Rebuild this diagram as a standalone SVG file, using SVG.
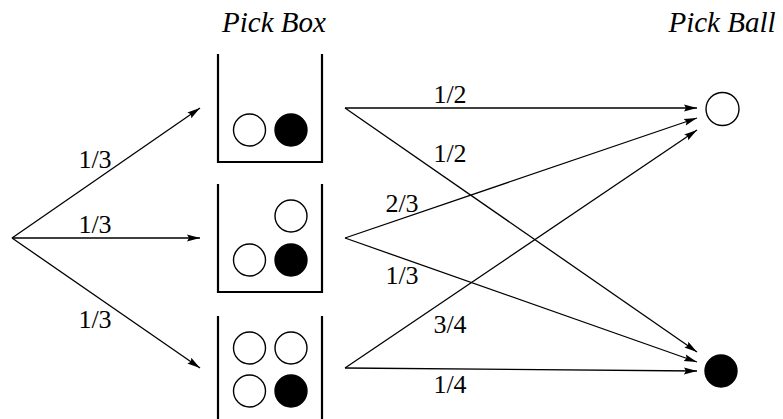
<svg xmlns="http://www.w3.org/2000/svg" width="783" height="419" viewBox="0 0 783 419">
<style>
.c{stroke:#000;stroke-width:1.3;fill:none}
.box{stroke:#000;stroke-width:2.2;fill:none}
.w{fill:#fff;stroke:#000;stroke-width:1.4}
.b{fill:#000;stroke:#000;stroke-width:1.4}
</style>
<defs>
<marker id="ah" markerUnits="userSpaceOnUse" markerWidth="14" markerHeight="10" viewBox="0 0 14 10" refX="13" refY="5" orient="auto">
<path d="M0,1.5 L13,5 L0,8.5 L2,5 Z" fill="#000"/>
</marker>
</defs>
<rect width="783" height="419" fill="#fff"/>
<g id="titles" font-family="'Times New Roman', Times, 'Liberation Serif', 'DejaVu Serif', serif" font-size="29" font-style="italic" text-anchor="middle" fill="#000">
<text x="274" y="32">Pick Box</text>
<text x="722" y="32">Pick Ball</text>
</g>
<g id="box1">
<path class="box" d="M218,54 V162 H322 V54"/>
<circle class="w" cx="249.5" cy="130" r="16"/>
<circle class="b" cx="291" cy="130" r="16"/>
</g>
<g id="box2">
<path class="box" d="M218,184 V292 H322 V184"/>
<circle class="w" cx="291" cy="216" r="16"/>
<circle class="w" cx="249.5" cy="260" r="16"/>
<circle class="b" cx="291" cy="260" r="16"/>
</g>
<g id="box3">
<path class="box" d="M218,316 V419 M322,316 V419"/>
<circle class="w" cx="249.5" cy="348" r="16"/>
<circle class="w" cx="291" cy="348" r="16"/>
<circle class="w" cx="249.5" cy="391" r="16"/>
<circle class="b" cx="291" cy="391" r="16"/>
</g>
<g id="white-ball">
<circle class="w" cx="722.5" cy="109" r="16.5"/>
</g>
<g id="black-ball">
<circle class="b" cx="721" cy="371" r="16"/>
</g>
<g id="connectors">
<line class="c" x1="12" y1="238" x2="200" y2="108" marker-end="url(#ah)"/>
<line class="c" x1="12" y1="238" x2="200" y2="238" marker-end="url(#ah)"/>
<line class="c" x1="12" y1="238" x2="200" y2="368" marker-end="url(#ah)"/>
<line class="c" x1="345" y1="108" x2="697" y2="108" marker-end="url(#ah)"/>
<line class="c" x1="345" y1="108" x2="697" y2="352" marker-end="url(#ah)"/>
<line class="c" x1="345" y1="238" x2="697" y2="118" marker-end="url(#ah)"/>
<line class="c" x1="345" y1="238" x2="697" y2="362" marker-end="url(#ah)"/>
<line class="c" x1="345" y1="368" x2="697" y2="130" marker-end="url(#ah)"/>
<line class="c" x1="345" y1="368" x2="697" y2="371" marker-end="url(#ah)"/>
</g>
<g id="labels" font-family="'Times New Roman', Times, 'Liberation Serif', 'DejaVu Serif', serif" font-size="26" text-anchor="middle" fill="#000">
<text x="95" y="168">1/3</text>
<text x="95" y="233">1/3</text>
<text x="95" y="328">1/3</text>
<text x="450" y="103">1/2</text>
<text x="450" y="162">1/2</text>
<text x="402" y="212">2/3</text>
<text x="402" y="284">1/3</text>
<text x="450" y="333">3/4</text>
<text x="450" y="393">1/4</text>
</g>
</svg>
